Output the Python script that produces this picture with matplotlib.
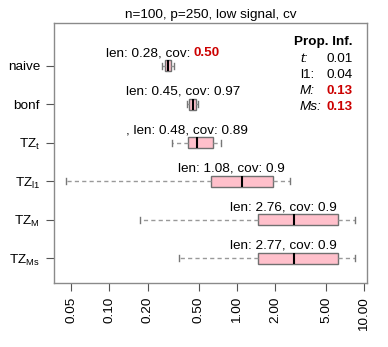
import matplotlib
matplotlib.use("Agg")
import matplotlib.pyplot as plt

# ---- data (x on log scale) ----
methods = ["naive", "bonf", "TZ_t", "TZ_l1", "TZ_M", "TZ_Ms"]
tick_labels = ["naive", "bonf",
               r"$\mathrm{TZ}_{\mathrm{t}}$", r"$\mathrm{TZ}_{\mathrm{l1}}$",
               r"$\mathrm{TZ}_{\mathrm{M}}$", r"$\mathrm{TZ}_{\mathrm{Ms}}$"]
whis_lo = [0.259, 0.404, 0.310, 0.0453, 0.175, 0.353]
q1 = [0.272, 0.423, 0.413, 0.626, 1.47, 1.47]
med = [0.287, 0.450, 0.489, 1.09, 2.79, 2.79]
q3 = [0.306, 0.475, 0.645, 1.92, 6.15, 6.15]
whis_hi = [0.321, 0.498, 0.745, 2.60, 8.50, 8.50]

len_txt = ["0.28", "0.45", "0.48", "1.08", "2.76", "2.77"]
cov_txt = ["0.50", "0.97", "0.89", "0.9", "0.9", "0.9"]
label_prefix = ["", "", ", ", "", "", ""]
cov_flag = [True, False, False, False, False, False]

prop_names = ["t", "l1", "M", "Ms"]
prop_italic = [True, False, True, True]
prop_vals = ["0.01", "0.04", "0.13", "0.13"]
prop_flag = [False, False, True, True]

x_ticks = [0.05, 0.1, 0.2, 0.5, 1, 2, 5, 10]

RED = "#CC0000"
FS = 9.7
PX = 0.72  # points per pixel at dpi 100

plt.rcParams["font.family"] = ["Liberation Sans", "DejaVu Sans"]
plt.rcParams["mathtext.fontset"] = "custom"
plt.rcParams["mathtext.rm"] = "Liberation Sans"
plt.rcParams["mathtext.it"] = "Liberation Sans:italic"
plt.rcParams["mathtext.bf"] = "Liberation Sans:bold"

fig = plt.figure(figsize=(3.88, 3.47), dpi=100)
ax = fig.add_axes([54 / 388, 1 - 283 / 347, 313 / 388, 260 / 347])

ypos = list(range(len(methods), 0, -1))
stats = [dict(med=m, q1=a, q3=b, whislo=lo, whishi=hi, fliers=[])
         for m, a, b, lo, hi in zip(med, q1, q3, whis_lo, whis_hi)]
ax.bxp(stats, positions=ypos, widths=0.28, orientation="horizontal",
       patch_artist=True, showfliers=False, capwidths=0.16,
       boxprops=dict(facecolor="pink", edgecolor="#707070", lw=1.0),
       medianprops=dict(color="black", lw=1.5),
       whiskerprops=dict(color="#999999", lw=1.0, ls=(0, (3, 2.3))),
       capprops=dict(color="#777777", lw=1.0))

ax.set_xscale("log")
ax.set_xlim(0.0367, 10.47)
ax.set_ylim(0.36, 7.11)
ax.set_xticks(x_ticks)
ax.set_xticklabels([f"{v:.2f}" for v in x_ticks], rotation=90, fontsize=FS)
ax.xaxis.set_minor_locator(matplotlib.ticker.NullLocator())
ax.set_yticks(ypos)
ax.set_yticklabels(tick_labels, fontsize=FS)
ax.tick_params(axis="both", length=6, width=0.8, color="#555555", pad=4)
for s in ax.spines.values():
    s.set_color("#8a8a8a")
    s.set_linewidth(1.0)

# len / cov labels above each box
for y, m, pre, ln, cv, flag in zip(ypos, med, label_prefix, len_txt, cov_txt, cov_flag):
    if flag:
        t = ax.annotate(f"{pre}len: {ln}, cov:", xy=(m, y), xytext=(22.5 * PX, 9.5 * PX),
                        textcoords="offset points", ha="right", va="baseline", fontsize=FS)
        ax.annotate(cv, xy=(1, 0), xycoords=t, xytext=(3.5 * PX, 0),
                    textcoords="offset points", ha="left", va="bottom",
                    fontsize=FS, color=RED, fontweight="bold")
    else:
        ax.annotate(f"{pre}len: {ln}, cov: {cv}", xy=(m, y), xytext=(-10 * PX, 9.5 * PX),
                    textcoords="offset points", ha="center", va="baseline", fontsize=FS)

# "Prop. Inf." table in the top-right corner
ax.text(0.955, 0.927, "Prop. Inf.", transform=ax.transAxes, ha="right", va="center",
        fontsize=FS, fontweight="bold")
for i, (nm, it, val, flag) in enumerate(zip(prop_names, prop_italic, prop_vals, prop_flag)):
    yy = 0.8615 - i * 0.0612
    ax.text(0.786, yy, nm + ":", transform=ax.transAxes, ha="left", va="center",
            fontsize=FS, style="italic" if it else "normal")
    ax.text(0.955, yy, val, transform=ax.transAxes, ha="right", va="center",
            fontsize=FS, color=RED if flag else "black",
            fontweight="bold" if flag else "normal")

ax.set_title("n=100, p=250, low signal, cv", fontsize=FS, pad=3.4)

fig.savefig("out.png", dpi=100)
